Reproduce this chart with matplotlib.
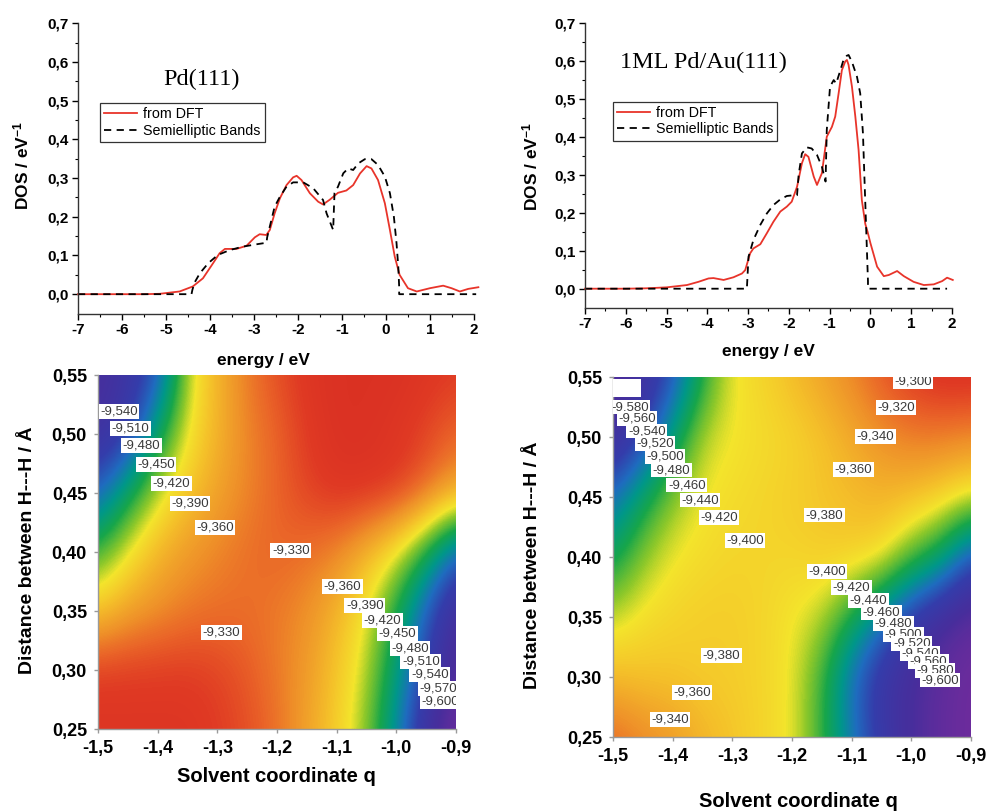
import numpy as np
import matplotlib
matplotlib.use("Agg")
import matplotlib.pyplot as plt
from matplotlib.colors import LinearSegmentedColormap, Normalize
from matplotlib.patches import Rectangle

plt.rcParams["font.family"] = ["Liberation Sans", "DejaVu Sans"]
plt.rcParams["mathtext.fontset"] = "custom"
plt.rcParams["mathtext.rm"] = "Liberation Sans:bold"
plt.rcParams["mathtext.default"] = "rm"

# ---------------- DOS data ----------------
pd_dft_e = [-7.0, -6.0, -5.5, -5.14, -4.69, -4.39, -4.16, -3.93, -3.78, -3.66, -3.40,
            -3.17, -2.98, -2.87, -2.72, -2.64, -2.53, -2.41, -2.26, -2.11, -2.03, -1.92,
            -1.73, -1.54, -1.43, -1.28, -1.09, -0.90, -0.745, -0.59, -0.44, -0.33, -0.18,
            -0.025, 0.09, 0.20, 0.31, 0.50, 0.70, 1.0, 1.30, 1.49, 1.68, 1.87, 2.10]
pd_dft_dos = [0.0, 0.0, 0.0, 0.001, 0.007, 0.02, 0.041, 0.08, 0.106, 0.117, 0.117,
              0.125, 0.147, 0.155, 0.153, 0.166, 0.209, 0.248, 0.282, 0.302, 0.306, 0.295,
              0.261, 0.239, 0.232, 0.244, 0.262, 0.268, 0.282, 0.312, 0.331, 0.325, 0.295,
              0.235, 0.166, 0.097, 0.05, 0.0155, 0.007, 0.0155, 0.022, 0.0155, 0.007, 0.0137, 0.018]

pd_se_e = [-7.0, -4.42, -4.40, -4.35, -4.23, -4.04, -3.82, -3.55, -3.25, -2.94, -2.715,
           -2.70, -2.64, -2.53, -2.41, -2.26, -2.11, -1.88, -1.655, -1.43, -1.35, -1.20,
           -1.17, -1.09, -0.97, -0.86, -0.745, -0.63, -0.48, -0.33, -0.18, -0.025, 0.09,
           0.18, 0.24, 0.28, 0.30, 0.30, 2.05]
pd_se_dos = [0.0, 0.0, 0.011, 0.03, 0.054, 0.08, 0.1015, 0.114, 0.123, 0.129, 0.133,
             0.147, 0.175, 0.226, 0.252, 0.278, 0.289, 0.289, 0.274, 0.2435, 0.209, 0.166,
             0.261, 0.278, 0.3125, 0.325, 0.321, 0.338, 0.349, 0.349, 0.334, 0.304, 0.261,
             0.20, 0.132, 0.071, 0.02, 0.0, 0.0]

au_dft_e = [-7.0, -6.0, -5.5, -5.0, -4.5, -4.22, -3.97, -3.85, -3.60, -3.36, -3.15,
            -3.07, -2.95, -2.87, -2.70, -2.54, -2.38, -2.21, -2.05, -1.93, -1.80, -1.68,
            -1.60, -1.52, -1.39, -1.31, -1.19, -1.07, -0.944, -0.863, -0.78, -0.70, -0.617,
            -0.576, -0.536, -0.453, -0.37, -0.29, -0.21, -0.125, -0.07, 0.0, 0.164, 0.328,
            0.45, 0.655, 0.82, 1.06, 1.31, 1.555, 1.76, 1.88, 2.02]
au_dft_dos = [0.0, 0.0, 0.001, 0.0035, 0.0096, 0.018, 0.027, 0.028, 0.023, 0.030, 0.040,
              0.049, 0.093, 0.106, 0.117, 0.146, 0.176, 0.203, 0.216, 0.229, 0.268, 0.33,
              0.354, 0.347, 0.295, 0.273, 0.304, 0.40, 0.426, 0.453, 0.514, 0.575, 0.598,
              0.602, 0.589, 0.532, 0.453, 0.365, 0.233, 0.17, 0.15, 0.12, 0.058, 0.033,
              0.036, 0.0465, 0.033, 0.018, 0.0096, 0.0114, 0.020, 0.029, 0.023]

au_se_e = [-7.0, -3.03, -2.99, -2.87, -2.70, -2.54, -2.38, -2.21, -2.05, -1.88, -1.80,
           -1.76, -1.68, -1.56, -1.44, -1.31, -1.19, -1.10, -1.07, -0.99, -0.90, -0.84,
           -0.76, -0.66, -0.58, -0.535, -0.453, -0.33, -0.25, -0.183, -0.142, -0.10, -0.06,
           -0.06, 1.88]
au_se_dos = [0.0, 0.0, 0.084, 0.128, 0.168, 0.198, 0.22, 0.235, 0.244, 0.246, 0.246,
             0.30, 0.356, 0.372, 0.369, 0.352, 0.321, 0.282, 0.418, 0.532, 0.549, 0.54,
             0.567, 0.602, 0.613, 0.615, 0.597, 0.558, 0.514, 0.409, 0.277, 0.146, 0.02,
             0.0, 0.0]

dos_xticks = [-7, -6, -5, -4, -3, -2, -1, 0, 1, 2]
dos_yticks = [0.0, 0.1, 0.2, 0.3, 0.4, 0.5, 0.6, 0.7]
dos_ylabels = ["0,0", "0,1", "0,2", "0,3", "0,4", "0,5", "0,6", "0,7"]

# ---------------- energy surfaces (eV), rows d=0.55 -> 0.25 ----------------
q_ticks = [-1.5, -1.4, -1.3, -1.2, -1.1, -1.0, -0.9]
q_labels = ["-1,5", "-1,4", "-1,3", "-1,2", "-1,1", "-1,0", "-0,9"]
d_ticks = [0.25, 0.30, 0.35, 0.40, 0.45, 0.50, 0.55]
d_labels = ["0,25", "0,30", "0,35", "0,40", "0,45", "0,50", "0,55"]

pd_surface = [
    [-9.58, -9.56, -9.53, -9.41, -9.37, -9.34, -9.32, -9.305, -9.30, -9.30, -9.30, -9.305, -9.31],
    [-9.57, -9.55, -9.46, -9.40, -9.37, -9.345, -9.33, -9.31, -9.30, -9.30, -9.305, -9.315, -9.33],
    [-9.52, -9.46, -9.41, -9.38, -9.36, -9.345, -9.33, -9.315, -9.305, -9.305, -9.31, -9.33, -9.36],
    [-9.44, -9.40, -9.37, -9.355, -9.345, -9.335, -9.33, -9.335, -9.345, -9.37, -9.40, -9.45, -9.52],
    [-9.38, -9.36, -9.35, -9.34, -9.335, -9.335, -9.34, -9.35, -9.37, -9.40, -9.45, -9.52, -9.58],
    [-9.31, -9.31, -9.31, -9.31, -9.315, -9.325, -9.34, -9.355, -9.38, -9.41, -9.47, -9.54, -9.59],
    [-9.305, -9.305, -9.305, -9.305, -9.31, -9.32, -9.335, -9.36, -9.385, -9.42, -9.49, -9.57, -9.61],
]
au_surface = [
    [-9.59, -9.57, -9.53, -9.45, -9.40, -9.39, -9.375, -9.36, -9.345, -9.325, -9.31, -9.30, -9.30],
    [-9.58, -9.54, -9.47, -9.41, -9.40, -9.395, -9.39, -9.38, -9.365, -9.35, -9.34, -9.34, -9.345],
    [-9.51, -9.46, -9.42, -9.40, -9.395, -9.39, -9.385, -9.38, -9.375, -9.37, -9.375, -9.385, -9.40],
    [-9.46, -9.42, -9.40, -9.395, -9.39, -9.39, -9.39, -9.385, -9.385, -9.39, -9.43, -9.46, -9.53],
    [-9.41, -9.395, -9.39, -9.385, -9.385, -9.39, -9.40, -9.41, -9.45, -9.50, -9.55, -9.58, -9.60],
    [-9.375, -9.38, -9.38, -9.385, -9.385, -9.39, -9.40, -9.44, -9.51, -9.56, -9.58, -9.60, -9.61],
    [-9.33, -9.345, -9.355, -9.37, -9.38, -9.39, -9.40, -9.44, -9.50, -9.55, -9.58, -9.60, -9.61],
]

pd_lbl_q = [-1.465, -1.446, -1.427, -1.403, -1.377, -1.346, -1.304, -1.177, -1.090, -1.053,
            -1.023, -0.998, -0.977, -0.959, -0.944, -0.930, -0.927, -1.293]
pd_lbl_d = [0.519, 0.505, 0.490, 0.474, 0.458, 0.441, 0.421, 0.401, 0.371, 0.355,
            0.342, 0.331, 0.318, 0.307, 0.296, 0.284, 0.273, 0.332]
pd_lbl_txt = ["-9,540", "-9,510", "-9,480", "-9,450", "-9,420", "-9,390", "-9,360", "-9,330",
              "-9,360", "-9,390", "-9,420", "-9,450", "-9,480", "-9,510", "-9,540", "-9,570",
              "-9,600", "-9,330"]

au_lbl_q = [-1.4715, -1.460, -1.4435, -1.4296, -1.4129, -1.4017, -1.3765, -1.354, -1.322,
            -1.279, -0.997, -1.026, -1.060, -1.097, -1.146, -1.141, -1.100, -1.072, -1.050,
            -1.030, -1.0135, -0.9994, -0.9855, -0.9716, -0.9604, -0.952, -1.318, -1.368, -1.4045]
au_lbl_d = [0.525, 0.5156, 0.505, 0.4947, 0.4836, 0.4725, 0.460, 0.4475, 0.433,
            0.4136, 0.546, 0.5247, 0.5008, 0.473, 0.435, 0.3883, 0.3744, 0.364, 0.354,
            0.3447, 0.3358, 0.328, 0.3197, 0.3128, 0.3058, 0.2975, 0.3183, 0.287, 0.2647]
au_lbl_txt = ["-9,580", "-9,560", "-9,540", "-9,520", "-9,500", "-9,480", "-9,460", "-9,440",
              "-9,420", "-9,400", "-9,300", "-9,320", "-9,340", "-9,360", "-9,380", "-9,400",
              "-9,420", "-9,440", "-9,460", "-9,480", "-9,500", "-9,520", "-9,540", "-9,560",
              "-9,580", "-9,600", "-9,380", "-9,360", "-9,340"]

# colour scale of the surfaces
cmap_vals = [-9.62, -9.58, -9.54, -9.51, -9.48, -9.45, -9.42, -9.40, -9.38, -9.35, -9.33, -9.31, -9.29]
cmap_cols = ["#7a2b9c", "#482e9c", "#343dab", "#1f6cbf", "#00978a", "#17a64a", "#8cc82a",
             "#f3e52c", "#f5c52a", "#ef9229", "#ea6528", "#e03a24", "#d62a22"]

RED = "#e8342a"

fig = plt.figure(figsize=(9.87, 8.11), dpi=100)


def dos_panel(rect, e1, d1, e2, d2, title, tpos, lpos):
    ax = fig.add_axes(rect)
    ax.plot(e1, d1, color=RED, lw=1.3, label="from DFT", clip_on=False)
    ax.plot(e2, d2, color="black", lw=1.3, ls=(0, (4, 3)), label="Semielliptic Bands", clip_on=False)
    ax.set_xlim(-7, 2)
    ax.set_ylim(-0.05, 0.7)
    ax.set_xticks(dos_xticks)
    ax.set_xticklabels([str(v) for v in dos_xticks])
    ax.set_xticks(np.arange(-6.5, 2, 1.0), minor=True)
    ax.set_yticks(dos_yticks)
    ax.set_yticklabels(dos_ylabels)
    ax.set_yticks(np.arange(0.05, 0.7, 0.1), minor=True)
    for s in ("top", "right"):
        ax.spines[s].set_visible(False)
    for s in ("left", "bottom"):
        ax.spines[s].set_linewidth(1.0)
        ax.spines[s].set_color("#333333")
    ax.tick_params(which="major", direction="out", length=4, width=1, labelsize=11, pad=3)
    ax.tick_params(which="minor", direction="out", length=2.5, width=0.8)
    for lab in ax.get_xticklabels() + ax.get_yticklabels():
        lab.set_fontweight("bold")
    ax.text(tpos[0], tpos[1], title, transform=ax.transAxes, ha="center", va="center",
            fontsize=17.5, family=["Liberation Serif", "DejaVu Serif"])
    leg = ax.legend(loc="upper left", bbox_to_anchor=lpos, borderaxespad=0, frameon=True,
                    fancybox=False, fontsize=10.3, handlelength=2.3, handletextpad=0.4,
                    labelspacing=0.15, borderpad=0.3)
    leg.get_frame().set_edgecolor("black")
    leg.get_frame().set_linewidth(0.9)
    return ax


dos_panel([0.0790, 0.6134, 0.4012, 0.3578], pd_dft_e, pd_dft_dos, pd_se_e, pd_se_dos,
          "Pd(111)", (0.313, 0.805), (0.056, 0.725))
dos_panel([0.5927, 0.6206, 0.3718, 0.3514], au_dft_e, au_dft_dos, au_se_e, au_se_dos,
          "1ML Pd/Au(111)", (0.3215, 0.862), (0.076, 0.722))

fig.text(0.2665, 0.5561, "energy / eV", ha="center", va="center", fontsize=12.5, fontweight="bold")
fig.text(0.0213, 0.7965, "DOS / eV$^{-1}$", ha="center", va="center", rotation=90, fontsize=12.5,
         fontweight="bold")
fig.text(0.7781, 0.5672, "energy / eV", ha="center", va="center", fontsize=12.5, fontweight="bold")
fig.text(0.537, 0.7953, "DOS / eV$^{-1}$", ha="center", va="center", rotation=90, fontsize=12.5,
         fontweight="bold")

vmin, vmax = cmap_vals[0], cmap_vals[-1]
pos = [(v - vmin) / (vmax - vmin) for v in cmap_vals]
cmap = LinearSegmentedColormap.from_list("surf", list(zip(pos, cmap_cols)))
norm = Normalize(vmin=vmin, vmax=vmax)


def surface_panel(rect, Z, lq, ld, lt):
    ax = fig.add_axes(rect)
    Z = np.array(Z)
    nr, nc = Z.shape
    dq = 0.6 / (nc - 1)
    dd = 0.3 / (nr - 1)
    ax.imshow(Z, extent=[-1.5 - dq / 2, -0.9 + dq / 2, 0.25 - dd / 2, 0.55 + dd / 2],
              origin="upper", cmap=cmap, norm=norm, interpolation="bicubic",
              interpolation_stage="data", aspect="auto")
    ax.set_xlim(-1.5, -0.9)
    ax.set_ylim(0.25, 0.55)
    ax.set_xticks(q_ticks)
    ax.set_xticklabels(q_labels)
    ax.set_yticks(d_ticks)
    ax.set_yticklabels(d_labels)
    for s in ("top", "right"):
        ax.spines[s].set_visible(False)
    for s in ("left", "bottom"):
        ax.spines[s].set_color("#9a9a9a")
        ax.spines[s].set_linewidth(1.0)
    ax.tick_params(direction="out", length=3, width=1, color="#9a9a9a", labelsize=13, pad=5)
    for lab in ax.get_xticklabels() + ax.get_yticklabels():
        lab.set_fontweight("bold")
    for q, d, t in zip(lq, ld, lt):
        ax.text(q, d, t, ha="center", va="center", fontsize=9.5, color="#3a3a3a",
                bbox=dict(facecolor="white", edgecolor="none", pad=1.0), clip_on=True)
    return ax


surface_panel([0.0993, 0.1011, 0.3627, 0.4365], pd_surface, pd_lbl_q, pd_lbl_d, pd_lbl_txt)
ax4 = surface_panel([0.6211, 0.0912, 0.3627, 0.4439], au_surface, au_lbl_q, au_lbl_d, au_lbl_txt)
ax4.add_patch(Rectangle((-1.5, 0.533), 0.047, 0.015, facecolor="white", edgecolor="none", zorder=5))

fig.text(0.0274, 0.321, "Distance between H---H / Å", ha="center", va="center", rotation=90,
         fontsize=14, fontweight="bold")
fig.text(0.2803, 0.0423, "Solvent coordinate q", ha="center", va="center", fontsize=14.5,
         fontweight="bold")
fig.text(0.540, 0.3025, "Distance between H---H / Å", ha="center", va="center", rotation=90,
         fontsize=14, fontweight="bold")
fig.text(0.8085, 0.0115, "Solvent coordinate q", ha="center", va="center", fontsize=14.5,
         fontweight="bold")

fig.savefig("out.png", dpi=100)
